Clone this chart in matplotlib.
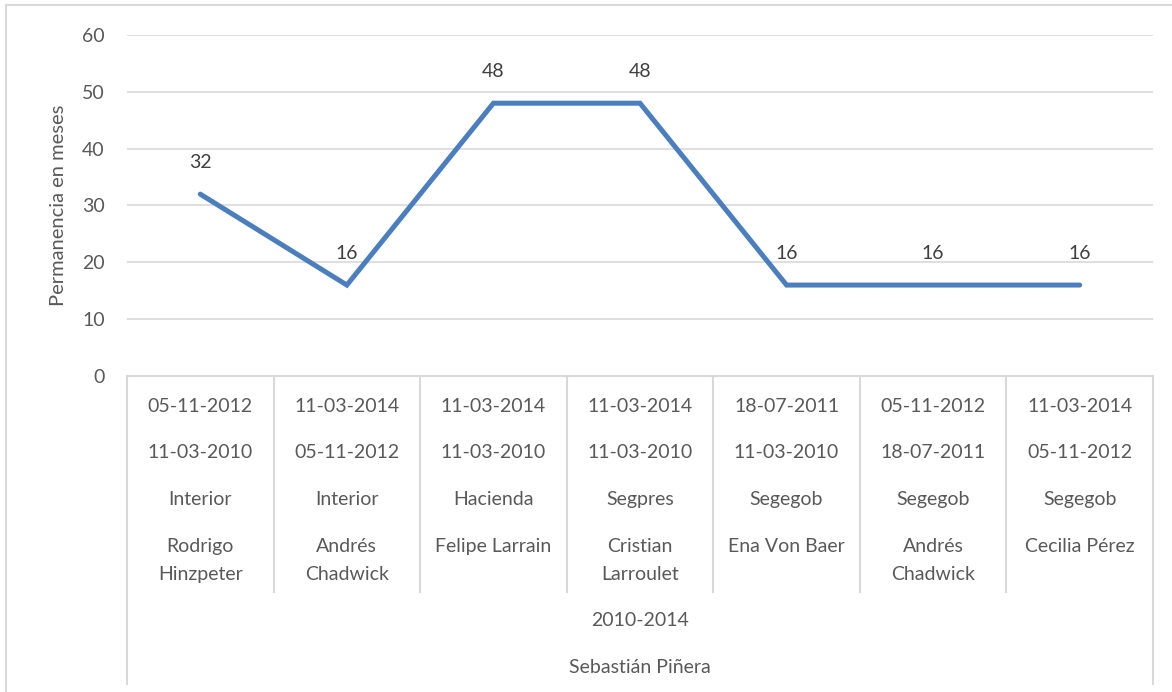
import matplotlib
matplotlib.use("Agg")
import matplotlib.pyplot as plt
from matplotlib.lines import Line2D

# ---- data ----
values = [32, 16, 48, 48, 16, 16, 16]
fecha_fin = ["05-11-2012", "11-03-2014", "11-03-2014", "11-03-2014",
             "18-07-2011", "05-11-2012", "11-03-2014"]
fecha_ini = ["11-03-2010", "05-11-2012", "11-03-2010", "11-03-2010",
             "11-03-2010", "18-07-2011", "05-11-2012"]
ministerio = ["Interior", "Interior", "Hacienda", "Segpres",
              "Segegob", "Segegob", "Segegob"]
nombres = [["Rodrigo", "Hinzpeter"], ["Andrés", "Chadwick"], ["Felipe Larrain"],
           ["Cristian", "Larroulet"], ["Ena Von Baer"], ["Andrés", "Chadwick"],
           ["Cecilia Pérez"]]
periodo = "2010-2014"
presidente = "Sebastián Piñera"
y_ticks = [0, 10, 20, 30, 40, 50, 60]
y_label = "Permanencia en meses"

W, H = 1172, 692
plt.rcParams['font.family'] = ['Lato', 'DejaVu Sans']
TXT = "#595959"
GRID = "#D9D9D9"
LINE = "#4A7EBF"
FS = 14

fig = plt.figure(figsize=(W / 100, H / 100), dpi=100)
x0, x1 = 127, 1153
y_top, y_bot = 35, 376
ax = fig.add_axes([x0 / W, 1 - y_bot / H, (x1 - x0) / W, (y_bot - y_top) / H])

n = len(values)
xs = list(range(n))
ax.plot(xs, values, color=LINE, lw=3.6, solid_capstyle='round',
        solid_joinstyle='miter', zorder=3)
ax.set_xlim(-0.5, n - 0.5)
ax.set_ylim(0, 60)
ax.set_yticks(y_ticks)
ax.set_yticklabels([str(t) for t in y_ticks], color=TXT, fontsize=FS)
ax.tick_params(axis='y', length=0, pad=16)
ax.set_xticks([])
ax.grid(axis='y', color=GRID, lw=1.2, zorder=0)
for s in ['top', 'right', 'left']:
    ax.spines[s].set_visible(False)
ax.spines['bottom'].set_color(GRID)
ax.spines['bottom'].set_linewidth(1.5)
ax.set_axisbelow(True)

ax.set_ylabel(y_label, color=TXT, fontsize=14.5, labelpad=11)

# data labels
for x, v in zip(xs, values):
    ax.annotate(str(v), (x, v), xytext=(0, 23), textcoords='offset points',
                ha='center', va='center', color="#404040", fontsize=FS)

# multi-level category axis
trans = ax.get_xaxis_transform()
def yf(p):
    return (y_bot - p) / (y_bot - y_top)

for i in range(n):
    ax.text(i, yf(407), fecha_fin[i], transform=trans, ha='center', va='center',
            color=TXT, fontsize=FS)
    ax.text(i, yf(453), fecha_ini[i], transform=trans, ha='center', va='center',
            color=TXT, fontsize=FS)
    ax.text(i, yf(500), ministerio[i], transform=trans, ha='center', va='center',
            color=TXT, fontsize=FS)
    for k, ln in enumerate(nombres[i]):
        ax.text(i, yf(547 + 28 * k), ln, transform=trans, ha='center', va='center',
                color=TXT, fontsize=FS)
ax.text((n - 1) / 2, yf(621), periodo, transform=trans, ha='center', va='center',
        color=TXT, fontsize=FS)
ax.text((n - 1) / 2, yf(668), presidente, transform=trans, ha='center', va='center',
        color=TXT, fontsize=FS)

for b in range(1, n):
    ax.add_line(Line2D([b - 0.5, b - 0.5], [0, yf(592)], transform=trans,
                       color=GRID, lw=1.5, clip_on=False))
for b in [-0.5, n - 0.5]:
    ax.add_line(Line2D([b, b], [0, yf(684)], transform=trans,
                       color=GRID, lw=1.5, clip_on=False))

# chart border
fig.add_artist(Line2D([6 / W, 1], [1 - 5 / H, 1 - 5 / H], transform=fig.transFigure,
                      color=GRID, lw=1.5))
fig.add_artist(Line2D([6 / W, 6 / W], [1 - 5 / H, 0], transform=fig.transFigure,
                      color=GRID, lw=1.5))

fig.savefig("out.png", dpi=100)
